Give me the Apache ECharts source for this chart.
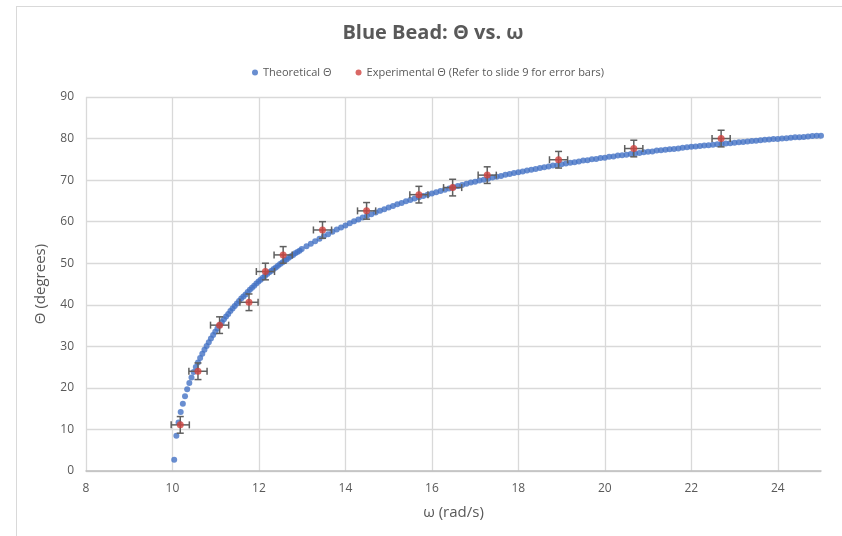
<!DOCTYPE html>
<html>
<head>
<meta charset="utf-8">
<script src="https://cdn.jsdelivr.net/npm/echarts@6/dist/echarts.min.js"></script>
<style>
  html, body { margin: 0; padding: 0; background: #ffffff; }
  #frame { position: absolute; left: 16px; top: 6px; width: 840px; height: 540px; border: 1px solid #d9d9d9; box-sizing: border-box; }
  #chart { position: absolute; left: 0; top: 0; width: 842px; height: 536px; }
</style>
</head>
<body>
<div id="frame"></div>
<div id="chart"></div>
<script>
// Theoretical bead angle against spin rate
const omegaTheory = [
  10.04, 10.09, 10.14, 10.19, 10.24, 10.29, 10.34, 10.39, 10.44, 10.49,
  10.54, 10.59, 10.64, 10.69, 10.74, 10.79, 10.84, 10.89, 10.94, 10.99,
  11.04, 11.09, 11.14, 11.19, 11.24, 11.29, 11.34, 11.39, 11.44, 11.49,
  11.54, 11.59, 11.64, 11.69, 11.74, 11.79, 11.84, 11.89, 11.94, 11.99,
  12.04, 12.09, 12.14, 12.19, 12.24, 12.29, 12.34, 12.39, 12.44, 12.49,
  12.54, 12.59, 12.64, 12.69, 12.74, 12.79, 12.84, 12.89, 12.94, 12.99,
  13.1, 13.2, 13.3, 13.4, 13.5, 13.6, 13.7, 13.8, 13.9, 14.0,
  14.1, 14.2, 14.3, 14.4, 14.5, 14.6, 14.7, 14.8, 14.9, 15.0,
  15.1, 15.2, 15.3, 15.4, 15.5, 15.6, 15.7, 15.8, 15.9, 16.0,
  16.1, 16.2, 16.3, 16.4, 16.5, 16.6, 16.7, 16.8, 16.9, 17.0,
  17.1, 17.2, 17.3, 17.4, 17.5, 17.6, 17.7, 17.8, 17.9, 18.0,
  18.1, 18.2, 18.3, 18.4, 18.5, 18.6, 18.7, 18.8, 18.9, 19.0,
  19.1, 19.2, 19.3, 19.4, 19.5, 19.6, 19.7, 19.8, 19.9, 20.0,
  20.1, 20.2, 20.3, 20.4, 20.5, 20.6, 20.7, 20.8, 20.9, 21.0,
  21.1, 21.2, 21.3, 21.4, 21.5, 21.6, 21.7, 21.8, 21.9, 22.0,
  22.1, 22.2, 22.3, 22.4, 22.5, 22.6, 22.7, 22.8, 22.9, 23.0,
  23.1, 23.2, 23.3, 23.4, 23.5, 23.6, 23.7, 23.8, 23.9, 24.0,
  24.1, 24.2, 24.3, 24.4, 24.5, 24.6, 24.7, 24.8, 24.9, 25.0
];
const thetaTheory = [
  2.7, 8.5, 11.7, 14.2, 16.2, 18.0, 19.7, 21.2, 22.5, 23.8,
  25.0, 26.1, 27.2, 28.2, 29.2, 30.1, 31.0, 31.9, 32.7, 33.5,
  34.3, 35.1, 35.8, 36.5, 37.2, 37.8, 38.5, 39.1, 39.7, 40.3,
  40.9, 41.5, 42.0, 42.5, 43.1, 43.6, 44.1, 44.6, 45.1, 45.6,
  46.0, 46.5, 46.9, 47.4, 47.8, 48.2, 48.6, 49.0, 49.4, 49.8,
  50.2, 50.6, 50.9, 51.3, 51.7, 52.0, 52.4, 52.7, 53.0, 53.4,
  54.1, 54.7, 55.3, 55.9, 56.5, 57.0, 57.6, 58.1, 58.6, 59.1,
  59.6, 60.1, 60.5, 61.0, 61.4, 61.8, 62.2, 62.6, 63.0, 63.4,
  63.8, 64.2, 64.5, 64.9, 65.2, 65.6, 65.9, 66.2, 66.5, 66.8,
  67.1, 67.4, 67.7, 68.0, 68.3, 68.6, 68.8, 69.1, 69.4, 69.6,
  69.9, 70.1, 70.3, 70.6, 70.8, 71.0, 71.3, 71.5, 71.7, 71.9,
  72.1, 72.3, 72.5, 72.7, 72.9, 73.1, 73.3, 73.5, 73.6, 73.8,
  74.0, 74.2, 74.3, 74.5, 74.7, 74.8, 75.0, 75.1, 75.3, 75.4,
  75.6, 75.7, 75.9, 76.0, 76.1, 76.3, 76.4, 76.5, 76.7, 76.8,
  76.9, 77.1, 77.2, 77.3, 77.4, 77.5, 77.6, 77.8, 77.9, 78.0,
  78.1, 78.2, 78.3, 78.4, 78.5, 78.6, 78.7, 78.8, 78.9, 79.0,
  79.1, 79.2, 79.3, 79.4, 79.5, 79.6, 79.7, 79.8, 79.9, 79.9,
  80.0, 80.1, 80.2, 80.3, 80.3, 80.4, 80.5, 80.6, 80.7, 80.7
];

// Measured bead angles with their uncertainties
const omegaExp = [10.18, 10.59, 11.09, 11.77, 12.15, 12.56, 13.47, 14.49, 15.70, 16.48, 17.28, 18.93, 20.67, 22.69];
const thetaExp = [11.1, 24.0, 35.1, 40.6, 48.0, 52.0, 58.0, 62.6, 66.5, 68.2, 71.2, 74.9, 77.6, 80.0];
const omegaErr = [0.21, 0.21, 0.21, 0.21, 0.21, 0.21, 0.21, 0.21, 0.21, 0.21, 0.21, 0.21, 0.21, 0.21];
const thetaErr = [2, 2, 2, 2, 2, 2, 2, 2, 2, 2, 2, 2, 2, 2];

// Axis ticks
const xTicks = { min: 8, max: 25, step: 2 };
const yTicks = { min: 0, max: 90, step: 10 };

const theoryData = omegaTheory.map((w, i) => [w, thetaTheory[i]]);
const expData = omegaExp.map((w, i) => [w, thetaExp[i]]);
const errData = omegaExp.map((w, i) => [w, thetaExp[i], omegaErr[i], thetaErr[i]]);

const textColor = '#595959';
const tickFont = "'Liberation Sans Narrow', 'Open Sans', sans-serif";
const mainFont = "'Open Sans', 'Lato', sans-serif";

function renderErrorBar(params, api) {
  const x = api.value(0), y = api.value(1), ex = api.value(2), ey = api.value(3);
  const c = api.coord([x, y]);
  const l = api.coord([x - ex, y]);
  const r = api.coord([x + ex, y]);
  const t = api.coord([x, y + ey]);
  const b = api.coord([x, y - ey]);
  const cap = 3.5;
  const style = { stroke: '#5f5f5f', lineWidth: 1.5, fill: null };
  const seg = (x1, y1, x2, y2) => ({ type: 'line', shape: { x1, y1, x2, y2 }, style });
  return {
    type: 'group',
    children: [
      seg(l[0], c[1], r[0], c[1]),
      seg(l[0], c[1] - cap, l[0], c[1] + cap),
      seg(r[0], c[1] - cap, r[0], c[1] + cap),
      seg(c[0], t[1], c[0], b[1]),
      seg(c[0] - cap, t[1], c[0] + cap, t[1]),
      seg(c[0] - cap, b[1], c[0] + cap, b[1])
    ]
  };
}

const chart = echarts.init(document.getElementById('chart'), null, { renderer: 'canvas' });
chart.setOption({
  backgroundColor: 'transparent',
  animation: false,
  title: {
    text: 'Blue Bead: Θ vs. ω',
    left: 428,
    top: 18,
    textAlign: 'center',
    textStyle: { fontFamily: mainFont, fontWeight: 'bold', fontSize: 20, color: textColor }
  },
  legend: {
    left: 247,
    top: 62,
    itemWidth: 6,
    itemHeight: 6,
    itemGap: 24,
    icon: 'circle',
    textStyle: { fontFamily: mainFont, fontSize: 11, color: textColor },
    data: ['Theoretical Θ', 'Experimental Θ (Refer to slide 9 for error bars)']
  },
  grid: { left: 86, right: 21, top: 97, bottom: 65, containLabel: false },
  xAxis: {
    type: 'value',
    min: xTicks.min,
    max: xTicks.max,
    interval: xTicks.step,
    name: 'ω (rad/s)',
    nameLocation: 'middle',
    nameGap: 34,
    nameTextStyle: { fontFamily: mainFont, fontSize: 15, color: textColor },
    axisLine: { show: true, lineStyle: { color: '#bfbfbf', width: 1.5 } },
    axisTick: { show: false },
    axisLabel: { showMaxLabel: false, margin: 12, fontFamily: tickFont, fontSize: 12, color: textColor },
    splitLine: { show: true, showMaxLine: false, lineStyle: { color: '#d9d9d9', width: 1.3 } }
  },
  yAxis: {
    type: 'value',
    min: yTicks.min,
    max: yTicks.max,
    interval: yTicks.step,
    name: 'Θ (degrees)',
    nameLocation: 'middle',
    nameGap: 38,
    nameRotate: 90,
    nameTextStyle: { fontFamily: mainFont, fontSize: 15, color: textColor },
    axisLine: { show: false },
    axisTick: { show: false },
    axisLabel: { margin: 12, fontFamily: tickFont, fontSize: 12, color: textColor },
    splitLine: { show: true, lineStyle: { color: '#d9d9d9', width: 1.3 } }
  },
  series: [
    {
      name: 'Theoretical Θ',
      type: 'scatter',
      data: theoryData,
      symbol: 'circle',
      symbolSize: 6,
      itemStyle: { color: '#4472c4' },
      z: 2
    },
    {
      name: 'Error bars',
      type: 'custom',
      data: errData,
      renderItem: renderErrorBar,
      encode: { x: 0, y: 1 },
      silent: true,
      z: 3
    },
    {
      name: 'Experimental Θ (Refer to slide 9 for error bars)',
      type: 'scatter',
      data: expData,
      symbol: 'circle',
      symbolSize: 7,
      itemStyle: { color: '#d0423f' },
      z: 4
    }
  ]
});
</script>
</body>
</html>
